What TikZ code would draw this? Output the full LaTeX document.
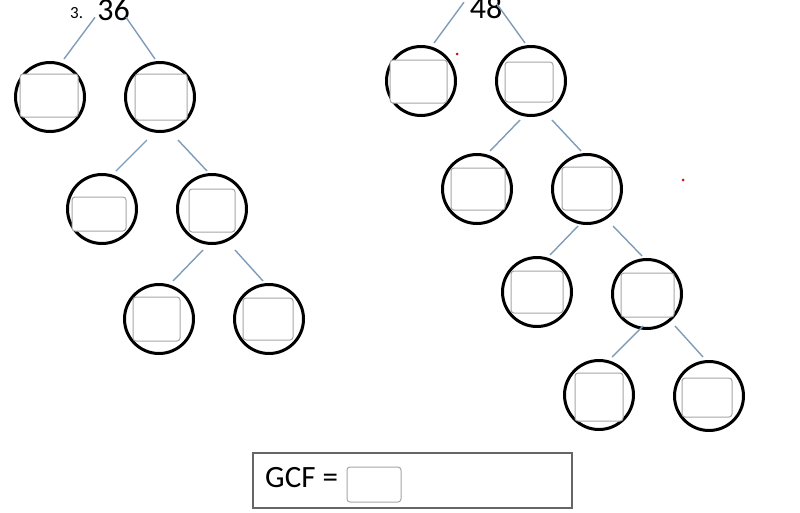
\documentclass[tikz,border=0pt]{standalone}
\usepackage{fontspec}
\setmainfont{Carlito}
\usetikzlibrary{calc}
\definecolor{connc}{HTML}{7F9CB8}
\definecolor{boxc}{HTML}{A6A6A6}
\definecolor{dotc}{HTML}{D01010}
\tikzset{
  circ/.style={circle, draw=black, line width=3pt, minimum size=69pt, inner sep=0pt},
  fbox/.style={draw=boxc, line width=1pt, rounded corners=3pt, fill=white, inner sep=0pt},
  conn/.style={draw=connc, line width=1.4pt},
  big/.style={font=\fontsize{32}{32}\selectfont, inner sep=0pt, anchor=base},
}
\begin{document}
\begin{tikzpicture}[x=1pt,y=-1pt]
\useasboundingbox (0,0) rectangle (800,512);
\fill[white] (0,0) rectangle (800,512);
% titles
\node[inner sep=0pt, anchor=base west, font=\fontsize{17}{17}\selectfont] (lab3) at (70,18) {3.};
\node[big] (n36) at (113.5,20) {36};
\node[big] (n48) at (486,18) {48};
% left tree circles
\node[circ] (C1) at (50,97) {};
\node[circ] (C2) at (160,97) {};
\node[circ] (C3) at (102,209) {};
\node[circ] (C4) at (212,209) {};
\node[circ] (C5) at (159,319) {};
\node[circ] (C6) at (269,319) {};
% right tree circles
\node[circ] (R1) at (421,81) {};
\node[circ] (R2) at (531,81) {};
\node[circ] (R3) at (477,189) {};
\node[circ] (R4) at (587,189) {};
\node[circ] (R5) at (537,292) {};
\node[circ] (R6) at (647,294) {};
\node[circ] (R7) at (599,395) {};
\node[circ] (R8) at (709,396) {};
% inner boxes
\node[fbox, minimum width=58pt, minimum height=43pt] (B1) at (49,95.5) {};
\node[fbox, minimum width=52pt, minimum height=46pt] (B2) at (161,97) {};
\node[fbox, minimum width=54pt, minimum height=34pt] (B3) at (99,214) {};
\node[fbox, minimum width=46pt, minimum height=43pt] (B4) at (212,210.5) {};
\node[fbox, minimum width=47pt, minimum height=44pt] (B5) at (156.5,319) {};
\node[fbox, minimum width=50pt, minimum height=42pt] (B6) at (268,319) {};
\node[fbox, minimum width=57pt, minimum height=43pt] (Q1) at (418.5,81.5) {};
\node[fbox, minimum width=48pt, minimum height=40pt] (Q2) at (529,82) {};
\node[fbox, minimum width=54pt, minimum height=42pt] (Q3) at (478,189) {};
\node[fbox, minimum width=50pt, minimum height=43pt] (Q4) at (587,188.5) {};
\node[fbox, minimum width=52pt, minimum height=42pt] (Q5) at (537,292) {};
\node[fbox, minimum width=53pt, minimum height=44pt] (Q6) at (647.5,295) {};
\node[fbox, minimum width=48pt, minimum height=48pt] (Q7) at (599,397) {};
\node[fbox, minimum width=50pt, minimum height=39pt] (Q8) at (707,397.5) {};
% connectors left
\draw[conn] ($(n36)+(-18.5,8)$) -- ($(C1)+(14,-38)$);
\draw[conn] ($(n36)+(12.5,8)$) -- ($(C2)+(-5,-38)$);
\draw[conn] ($(C2)+(-13,43)$) -- ($(C3)+(14,-38)$);
\draw[conn] ($(C2)+(18,43)$) -- ($(C4)+(-5,-38)$);
\draw[conn] ($(C4)+(-9,41)$) -- ($(C5)+(14,-38)$);
\draw[conn] ($(C4)+(23,41)$) -- ($(C6)+(-6,-38)$);
% connectors right
\draw[conn] ($(n48)+(-22,-5)$) -- ($(R1)+(13,-38)$);
\draw[conn] ($(n48)+(11,-3)$) -- ($(R2)+(-6,-38)$);
\draw[conn] ($(R2)+(-11,39)$) -- ($(R3)+(13,-38)$);
\draw[conn] ($(R2)+(21,39)$) -- ($(R4)+(-6,-38)$);
\draw[conn] ($(R4)+(-9,37)$) -- ($(R5)+(13,-37)$);
\draw[conn] ($(R4)+(26,37)$) -- ($(R6)+(-5,-38)$);
\draw[conn] ($(R6)+(-4,32)$) -- ($(R7)+(13,-38)$);
\draw[conn] ($(R6)+(28,32)$) -- ($(R8)+(-6,-39)$);
% red dots
\fill[dotc] (457,54) circle (1.5pt);
\fill[dotc] (683,180) circle (1.5pt);
% GCF box
\node[draw=gray!80!black, line width=1.2pt, inner sep=0pt, minimum width=319pt, minimum height=55pt] (gcf) at (412.5,480.5) {};
\node[inner sep=0pt, anchor=base west, font=\fontsize{31}{31}\selectfont] (gcft) at (265,487) {GCF =};
\node[fbox, minimum width=54pt, minimum height=35pt] (gans) at (374,484.5) {};
\end{tikzpicture}
\end{document}
